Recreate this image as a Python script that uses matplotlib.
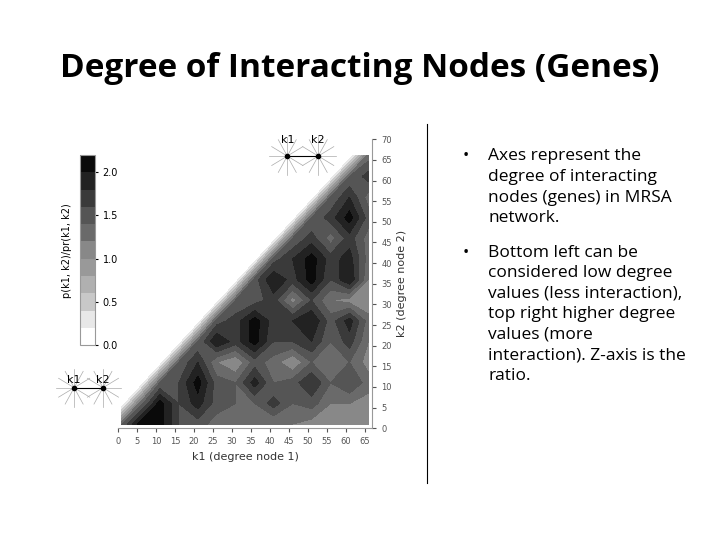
import numpy as np
import matplotlib.pyplot as plt
from matplotlib.colors import ListedColormap

# grid of degree values (k1 columns, k2 rows), step 5
k_vals = [0, 5, 10, 15, 20, 25, 30, 35, 40, 45, 50, 55, 60, 65]
# ratio p(k1,k2)/pr(k1,k2); listed from the diagonal to k1=65
rows = [
    [1.4, 2.15, 2.1, 1.6, 1.5, 1.3, 1.3, 1.2, 1.2, 1.2, 1.1, 1.0, 1.1, 1.0],
    [1.3, 2.1, 1.6, 1.9, 1.5, 1.4, 1.4, 1.7, 1.4, 1.5, 1.2, 1.2, 1.1],
    [1.4, 1.6, 2.1, 1.5, 1.4, 1.9, 1.4, 1.5, 1.8, 1.4, 1.6, 1.3],
    [1.4, 1.8, 1.2, 1.0, 1.5, 1.3, 1.0, 1.4, 1.2, 1.4, 1.1],
    [1.4, 2.0, 1.7, 2.1, 1.6, 1.6, 1.8, 1.4, 1.7, 1.2],
    [1.5, 1.7, 2.1, 1.7, 1.8, 2.0, 1.5, 1.9, 1.3],
    [1.4, 1.5, 1.7, 1.1, 1.6, 1.2, 1.1, 1.0],
    [1.5, 2.0, 1.7, 2.1, 1.6, 2.0, 1.2],
    [1.5, 1.8, 2.1, 1.7, 1.9, 1.3],
    [1.4, 1.7, 1.3, 1.7, 1.3],
    [1.4, 1.7, 2.1, 1.5],
    [1.4, 1.8, 1.3],
    [1.4, 1.7],
    [1.3],
]
# grey of each 0.2 band on the colour scale, 0.0 -> 2.2
band_colors = ["#ffffff", "#e8e8e8", "#c8c8c8", "#b0b0b0", "#999999", "#888888",
               "#6a6a6a", "#555555", "#3a3a3a", "#222222", "#0a0a0a"]

bullets = [
    "Axes represent the\ndegree of interacting\nnodes (genes) in MRSA\nnetwork.",
    "Bottom left can be\nconsidered low degree\nvalues (less interaction),\ntop right higher degree\nvalues (more\ninteraction). Z-axis is the\nratio.",
]

n = len(k_vals)
Z = np.zeros((n, n))
for j, r in enumerate(rows):
    Z[j, j:] = r
K1, K2 = np.meshgrid(np.array(k_vals) + 1, np.array(k_vals) + 1)

fig = plt.figure(figsize=(7.2, 5.4), dpi=100)
fig.text(0.5, 0.874, "Degree of Interacting Nodes (Genes)", ha="center", va="center",
         fontsize=24, fontweight="bold", family="Open Sans")

levels = np.linspace(0, 2.2, 12)

ax = fig.add_axes([0.164, 0.207, 0.353, 0.535])
cs = ax.contourf(K1, K2, Z, levels=levels, cmap=ListedColormap(band_colors))
ax.set_xlim(0, 67)
ax.set_ylim(0, 70)
ax.set_xticks(range(0, 66, 5))
ax.set_yticks(range(0, 71, 5))
ax.yaxis.tick_right()
ax.yaxis.set_label_position("right")
for s in ["top", "left"]:
    ax.spines[s].set_visible(False)
for s in ["bottom", "right"]:
    ax.spines[s].set_color("#999999")
ax.tick_params(labelsize=6, colors="#555555", length=3, direction="out")
ax.set_xlabel("k1 (degree node 1)", fontsize=8, color="#333333")
ax.set_ylabel("k2 (degree node 2)", fontsize=8, color="#333333")

cax = fig.add_axes([0.111, 0.361, 0.021, 0.352])
cb = fig.colorbar(cs, cax=cax, ticks=[0, 0.5, 1.0, 1.5, 2.0])
cb.outline.set_edgecolor("#999999")
cb.ax.tick_params(labelsize=7, length=2)
fig.text(0.093, 0.535, "p(k1, k2)/pr(k1, k2)", rotation=90, ha="center", va="center", fontsize=7)

# small node-pair glyphs
def glyph(x1, x2, y, lab_dy):
    for x in (x1, x2):
        for a in np.linspace(0, np.pi, 6, endpoint=False):
            dx, dy = 0.025 * np.cos(a), 0.035 * np.sin(a)
            fig.add_artist(plt.Line2D([x - dx, x + dx], [y - dy, y + dy], color="#aaaaaa", lw=0.5))
    fig.add_artist(plt.Line2D([x1, x2], [y, y], color="black", lw=0.8))
    fig.add_artist(plt.Line2D([x1, x2], [y, y], ls="", marker="o", ms=3, color="black"))
    fig.text(x1, y + lab_dy, "k1", ha="center", fontsize=8)
    fig.text(x2, y + lab_dy, "k2", ha="center", fontsize=8)

glyph(0.399, 0.442, 0.711, 0.025)
glyph(0.103, 0.143, 0.282, 0.008)

fig.add_artist(plt.Line2D([0.593, 0.593], [0.105, 0.77], color="black", lw=0.8))

y = 0.725
for b in bullets:
    fig.text(0.643, y, "•", fontsize=12, va="top", family="Open Sans")
    fig.text(0.678, y, b, fontsize=12.5, va="top", linespacing=1.38, family="Open Sans")
    y -= 0.0445 * (b.count("\n") + 1)

fig.savefig("out.png")
